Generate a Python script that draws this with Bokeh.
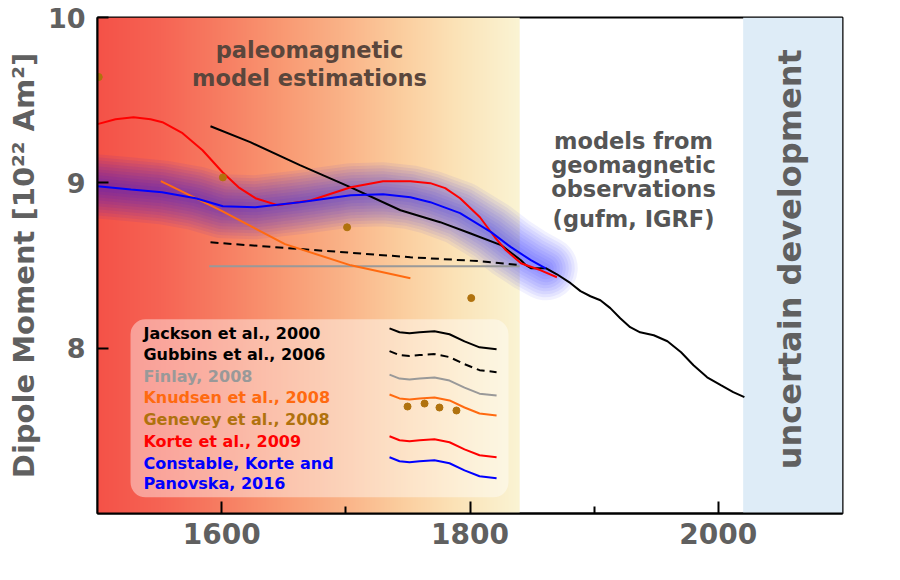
import numpy as np
from bokeh.plotting import figure
from bokeh.models import Label, BoxAnnotation, FixedTicker, Range1d
from bokeh.embed import file_html
from bokeh.resources import INLINE

# ---------------- data ----------------
korte_years = [1500, 1514.5, 1529, 1542.7, 1552.3, 1568.5, 1584.6, 1600.7, 1613.6, 1627.2, 1645, 1672, 1704, 1730, 1752, 1768, 1780, 1792, 1808, 1820, 1829, 1841, 1857, 1870]
korte_vals = [9.355, 9.385, 9.397, 9.385, 9.367, 9.300, 9.197, 9.064, 8.973, 8.907, 8.865, 8.895, 8.973, 9.010, 9.010, 8.998, 8.968, 8.907, 8.792, 8.671, 8.592, 8.514, 8.471, 8.429]

constable_years = [1500, 1527, 1552, 1579, 1601, 1627, 1663, 1704, 1730, 1752, 1768, 1792, 1817, 1833, 1849, 1861]
constable_vals = [8.979, 8.960, 8.943, 8.907, 8.858, 8.852, 8.883, 8.925, 8.931, 8.913, 8.883, 8.817, 8.702, 8.611, 8.532, 8.483]

jackson_years = [1591, 1623, 1663, 1704, 1744, 1776, 1800, 1825, 1841, 1845, 1849, 1861, 1870, 1881, 1889, 1897, 1905, 1913, 1921, 1929, 1937, 1948, 1959, 1970, 1980, 1991, 2002, 2012, 2021]
jackson_vals = [9.342, 9.246, 9.107, 8.973, 8.834, 8.762, 8.695, 8.623, 8.532, 8.502, 8.484, 8.484, 8.447, 8.393, 8.345, 8.314, 8.290, 8.242, 8.181, 8.127, 8.096, 8.078, 8.042, 7.975, 7.897, 7.824, 7.776, 7.734, 7.704]

gubbins_years = [1591, 1623, 1688, 1752, 1808, 1841]
gubbins_vals = [8.640, 8.622, 8.586, 8.550, 8.526, 8.502]

finlay_years = [1590, 1840]
finlay_vals = [8.495, 8.495]

knudsen_years = [1551, 1600, 1651, 1704, 1752]
knudsen_vals = [9.010, 8.830, 8.629, 8.501, 8.423]

genevey_years = [1501, 1601, 1701, 1801]
genevey_vals = [9.64, 9.033, 8.731, 8.303]

legend_labels = ["Jackson et al., 2000", "Gubbins et al., 2006", "Finlay, 2008",
                 "Knudsen et al., 2008", "Genevey et al., 2008", "Korte et al., 2009",
                 "Constable, Korte and", "Panovska, 2016"]

x_ticks = [1600, 1800, 2000]
x_minor_ticks = [1700, 1900]
y_ticks = [8, 9, 10]

# legend symbol shape (offsets in years / dipole units)
legend_wave_dx = [0, 8.05, 16.1, 24.2, 36.2, 48.3, 60.4, 72.5, 86.2]
legend_wave_dy = [0, -0.024, -0.030, -0.024, -0.018, -0.036, -0.079, -0.115, -0.127]

# background gradient stops
grad_years = [1500, 1551, 1599, 1647, 1696, 1744, 1792, 1841]
grad_r = [244, 246, 247, 249, 250, 251, 251, 250]
grad_g = [82, 100, 125, 152, 178, 205, 228, 244]
grad_b = [72, 84, 98, 114, 135, 158, 185, 212]

# ---------------- colours ----------------
C_KORTE = "#ff0000"
C_CONST = "#0000ff"
C_FINLAY = "#999999"
C_KNUD = "#ff6a10"
C_GEN = "#b0720e"
GREY = "#606060"
FONT = "DejaVu Sans"

p = figure(width=900, height=580, x_range=Range1d(1500, 2100), y_range=Range1d(7, 10),
           output_backend="svg", toolbar_location=None,
           min_border_left=97, min_border_right=58, min_border_top=17, min_border_bottom=67)
p.xgrid.visible = False
p.ygrid.visible = False
p.background_fill_color = "white"
p.border_fill_color = "white"
p.outline_line_color = "black"
p.outline_line_width = 2

# gradient background (paleomagnetic period)
N = 340
cols = np.linspace(1500, 1840, N)
img = np.zeros((1, N), dtype=np.uint32)
view = img.view(dtype=np.uint8).reshape((1, N, 4))
view[0, :, 0] = np.interp(cols, grad_years, grad_r).astype(np.uint8)
view[0, :, 1] = np.interp(cols, grad_years, grad_g).astype(np.uint8)
view[0, :, 2] = np.interp(cols, grad_years, grad_b).astype(np.uint8)
view[0, :, 3] = 255
p.image_rgba(image=[img], x=1500, y=7, dw=340, dh=3)

# uncertain development band
p.add_layout(BoxAnnotation(left=2020, right=2100, bottom=7, top=10,
                           fill_color="#deecf7", fill_alpha=1, line_alpha=0, level="underlay"))

# blue uncertainty halo (soft glow from stacked translucent strokes)
for w in range(64, 4, -6):
    p.line(constable_years, constable_vals, line_width=w, color=C_CONST, alpha=0.055,
           line_cap="round", line_join="round")

p.line(finlay_years, finlay_vals, line_width=2, color=C_FINLAY)
p.line(gubbins_years, gubbins_vals, line_width=2, color="black", line_dash="8 5")
p.line(knudsen_years, knudsen_vals, line_width=2, color=C_KNUD)
p.line(jackson_years, jackson_vals, line_width=2, color="black")
p.line(korte_years, korte_vals, line_width=2, color=C_KORTE)
p.line(constable_years, constable_vals, line_width=2, color=C_CONST)
p.scatter(genevey_years, genevey_vals, size=7, color=C_GEN)

# legend panel (glyph, so the legend symbols can sit on top of it)
p.quad(left=[1526.6], right=[1831], bottom=[7.098], top=[8.175],
       fill_color="white", fill_alpha=0.42, line_alpha=0, border_radius=15)

legend_colors = ["black", "black", C_FINLAY, C_KNUD, C_GEN, C_KORTE, C_CONST, C_CONST]
legend_y = [8.091, 7.962, 7.828, 7.703, 7.570, 7.437, 7.304, 7.180]
for t, c, yy in zip(legend_labels, legend_colors, legend_y):
    p.add_layout(Label(x=1537, y=yy, text=t, text_color=c, text_font=FONT,
                       text_font_size="16px", text_font_style="bold",
                       text_baseline="middle", text_align="left"))

wave_x0 = 1735.2
wave_rows = [(8.12, "black", None), (7.982, "black", "8 5"), (7.84, C_FINLAY, None),
             (7.72, C_KNUD, None), (7.467, C_KORTE, None), (7.34, C_CONST, None)]
for y0, c, dash in wave_rows:
    xs = [wave_x0 + d for d in legend_wave_dx]
    ys = [y0 + d for d in legend_wave_dy]
    if dash:
        p.line(xs, ys, line_width=2, color=c, line_dash=dash)
    else:
        p.line(xs, ys, line_width=2, color=c)
p.scatter([1749.7, 1763.4, 1775.4, 1789.1], [7.647, 7.665, 7.641, 7.623], size=7, color=C_GEN)

# annotations
def lab(x, y, text, size, color, angle=0.0, align="center"):
    p.add_layout(Label(x=x, y=y, text=text, text_color=color, text_font=FONT,
                       text_font_size=size, text_font_style="bold", angle=angle,
                       text_align=align, text_baseline="middle"))

lab(1670.7, 9.802, "paleomagnetic", "22.5px", "#5a463c")
lab(1670.7, 9.633, "model estimations", "22.5px", "#5a463c")
lab(1931.7, 9.252, "models from", "22.5px", "#555555")
lab(1931.7, 9.107, "geomagnetic", "22.5px", "#555555")
lab(1931.7, 8.962, "observations", "22.5px", "#555555")
lab(1931.7, 8.780, "(gufm, IGRF)", "22.5px", "#555555")
lab(2058.1, 8.538, "uncertain development", "32px", GREY, angle=np.pi / 2)
lab(2105, 6.855, "Year", "28px", GREY)

# axes
p.xaxis.ticker = FixedTicker(ticks=x_ticks, minor_ticks=x_minor_ticks)
p.yaxis.ticker = FixedTicker(ticks=y_ticks)
for ax in (p.xaxis, p.yaxis):
    ax.axis_line_width = 2
    ax.axis_line_color = "black"
    ax.major_tick_line_width = 2
    ax.minor_tick_line_width = 2
    ax.major_tick_out = 0
    ax.minor_tick_out = 0
    ax.major_label_text_font = FONT
    ax.major_label_text_font_style = "bold"
    ax.major_label_text_color = GREY
p.xaxis.major_tick_in = 12
p.xaxis.minor_tick_in = 7
p.yaxis.major_tick_in = 11
p.yaxis.minor_tick_line_color = None
p.xaxis.major_label_text_font_size = "28px"
p.yaxis.major_label_text_font_size = "27px"
p.xaxis.major_label_standoff = 9
p.yaxis.major_label_standoff = 12
p.yaxis.axis_label = "Dipole Moment [10²² Am²]"
p.yaxis.axis_label_text_font = FONT
p.yaxis.axis_label_text_font_style = "bold"
p.yaxis.axis_label_text_font_size = "29px"
p.yaxis.axis_label_text_color = GREY
p.yaxis.axis_label_standoff = 4

open("out.html", "w").write(file_html(p, INLINE))
